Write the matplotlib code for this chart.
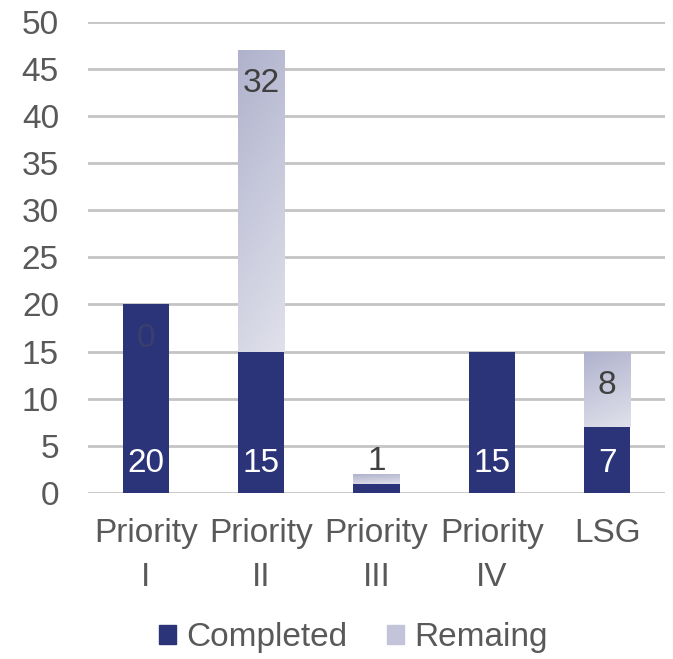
import numpy as np
import matplotlib.pyplot as plt
from matplotlib.colors import LinearSegmentedColormap
from matplotlib.patches import Patch

plt.rcParams['font.family'] = ['Liberation Sans', 'DejaVu Sans']

categories = ['Priority\nI', 'Priority\nII', 'Priority\nIII', 'Priority\nIV', 'LSG']
completed = [20, 15, 1, 15, 7]
remaining = [0, 32, 1, 0, 8]
show_remaining_label = [True, True, True, False, True]

navy = '#2b3479'
text_grey = '#595959'
grad = LinearSegmentedColormap.from_list('rem', ['#b0b2cd', '#e0e1eb'])

fig = plt.figure(figsize=(6.73, 6.59), dpi=100)
ax = fig.add_axes([0.131, 0.252, 0.857, 0.715])

x = np.arange(len(categories))
width = 0.4
ax.bar(x, completed, width, color=navy, zorder=3, label='Completed')
rem_bars = ax.bar(x, remaining, width, bottom=completed, color='none', zorder=3)

# gradient fill for the remaining segments (darker at top, lighter at bottom right)
gv = np.linspace(1, 0, 128).reshape(-1, 1)
gh = np.linspace(0, 1, 32).reshape(1, -1)
g = 0.8 * gv + 0.2 * gh
for bar in rem_bars:
    if bar.get_height() <= 0:
        continue
    x0, y0 = bar.get_x(), bar.get_y()
    im = ax.imshow(g, cmap=grad, aspect='auto', origin='lower', zorder=3,
                   extent=[x0, x0 + bar.get_width(), y0, y0 + bar.get_height()])
    im.set_clip_path(bar)

# data labels
fs = 24
for i in range(len(categories)):
    if completed[i] >= 3:
        ax.text(x[i], 3.1, str(completed[i]), ha='center', va='center',
                color='white', fontsize=fs, zorder=4)
    if not show_remaining_label[i]:
        continue
    top = completed[i] + remaining[i]
    if remaining[i] >= 3 or completed[i] >= 3:
        ax.text(x[i], top - 3.6, str(remaining[i]), ha='center', va='center',
                color='#404040' if remaining[i] > 0 else '#3a3f6e', fontsize=fs, zorder=4)
    else:
        ax.text(x[i], 3.3, str(remaining[i]), ha='center', va='center',
                color='#404040', fontsize=fs, zorder=4)

ax.set_xlim(-0.5, 4.5)
ax.set_ylim(0, 50)
ax.set_yticks(range(0, 51, 5))
ax.set_xticks(x)
ax.set_xticklabels(categories, linespacing=1.55)
ax.tick_params(axis='both', length=0, labelsize=fs, labelcolor=text_grey)
ax.tick_params(axis='x', pad=18)
ax.tick_params(axis='y', pad=21)
ax.grid(axis='y', color='#c4c4c4', linewidth=2, zorder=0)
for s in ax.spines.values():
    s.set_visible(False)

handles = [Patch(color=navy, label='Completed'), Patch(color='#c3c4d9', label='Remaing')]
fig.legend(handles=handles, loc='center', bbox_to_anchor=(0.525, 0.032), ncol=2,
           frameon=False, fontsize=fs, labelcolor=text_grey, handlelength=0.5,
           handleheight=0.5, handletextpad=0.3, columnspacing=1.2)

plt.savefig('out.png', dpi=100)
